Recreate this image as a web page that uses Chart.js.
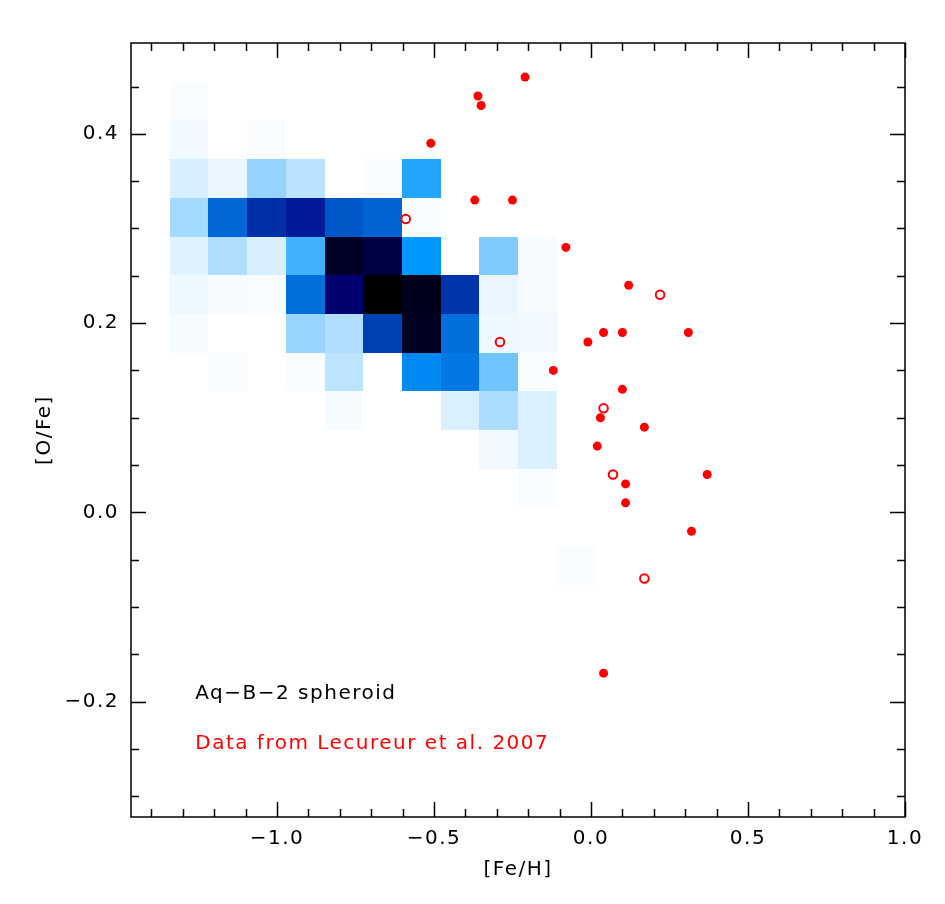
<!DOCTYPE html>
<html>
<head>
<meta charset="utf-8">
<title>[O/Fe] vs [Fe/H]</title>
<script src="https://cdn.jsdelivr.net/npm/chart.js@4.4.1/dist/chart.umd.min.js"></script>
<style>
  html, body { margin: 0; padding: 0; background: #fff; }
  #wrap { width: 945px; height: 904px; }
</style>
</head>
<body>
<div id="wrap"><canvas id="ofe-chart" width="945" height="904"></canvas></div>
<script>
// axis ranges ([Fe/H], [O/Fe])
var xRange = [-1.465, 1.0];
var yRange = [-0.322, 0.496];

// labelled ticks
var xTicks = [-1.0, -0.5, 0.0, 0.5, 1.0];
var yTicks = [-0.2, 0.0, 0.2, 0.4];
// all tick marks (minor + major)
var xTickMarks = [-1.4, -1.3, -1.2, -1.1, -1.0, -0.9, -0.8, -0.7, -0.6, -0.5, -0.4, -0.3, -0.2, -0.1,
                  0.0, 0.1, 0.2, 0.3, 0.4, 0.5, 0.6, 0.7, 0.8, 0.9, 1.0];
var yTickMarks = [-0.3, -0.25, -0.2, -0.15, -0.1, -0.05, 0.0, 0.05, 0.1, 0.15, 0.2, 0.25, 0.3, 0.35, 0.4, 0.45];

// Aq-B-2 spheroid density, 20x20 bins over the plot, rows from the top
var nBins = 20;
var densityRows = [
  [0, 0,   0,   0,   0,   0,   0,    0,    0,  0,  0,   0,   0, 0, 0, 0, 0, 0, 0, 0],
  [0, 1.5, 0,   0,   0,   0,   0,    0,    0,  0,  0,   0,   0, 0, 0, 0, 0, 0, 0, 0],
  [0, 4.3, 0,   1.5, 0,   0,   0,    0,    0,  0,  0,   0,   0, 0, 0, 0, 0, 0, 0, 0],
  [0, 11.5,6,   30,  20,  0,   1.5,  45,   0,  0,  0,   0,   0, 0, 0, 0, 0, 0, 0, 0],
  [0, 26,  65,  78,  85,  69,  66,   1.5,  0,  0,  0,   0,   0, 0, 0, 0, 0, 0, 0, 0],
  [0, 9,   23,  11.5,41,  95,  93,   52,   0,  33, 2.6, 0,   0, 0, 0, 0, 0, 0, 0, 0],
  [0, 5,   2.6, 1.5, 63,  90,  100,  96.5, 77, 6,  2.6, 0,   0, 0, 0, 0, 0, 0, 0, 0],
  [0, 3,   0,   0,   29,  23,  74,   96,   63, 5,  3.7, 0,   0, 0, 0, 0, 0, 0, 0, 0],
  [0, 0,   1.5, 0,   1.5, 19,  0,    56,   61, 35, 1.5, 0,   0, 0, 0, 0, 0, 0, 0, 0],
  [0, 0,   0,   0,   0,   2.6, 0,    0,    10, 24, 10,  0,   0, 0, 0, 0, 0, 0, 0, 0],
  [0, 0,   0,   0,   0,   0,   0,    0,    0,  4.3,10,  0,   0, 0, 0, 0, 0, 0, 0, 0],
  [0, 0,   0,   0,   0,   0,   0,    0,    0,  0,  1.5, 0,   0, 0, 0, 0, 0, 0, 0, 0],
  [0, 0,   0,   0,   0,   0,   0,    0,    0,  0,  0,   0,   0, 0, 0, 0, 0, 0, 0, 0],
  [0, 0,   0,   0,   0,   0,   0,    0,    0,  0,  0,   1.5, 0, 0, 0, 0, 0, 0, 0, 0],
  [0, 0,   0,   0,   0,   0,   0,    0,    0,  0,  0,   0,   0, 0, 0, 0, 0, 0, 0, 0],
  [0, 0,   0,   0,   0,   0,   0,    0,    0,  0,  0,   0,   0, 0, 0, 0, 0, 0, 0, 0],
  [0, 0,   0,   0,   0,   0,   0,    0,    0,  0,  0,   0,   0, 0, 0, 0, 0, 0, 0, 0],
  [0, 0,   0,   0,   0,   0,   0,    0,    0,  0,  0,   0,   0, 0, 0, 0, 0, 0, 0, 0],
  [0, 0,   0,   0,   0,   0,   0,    0,    0,  0,  0,   0,   0, 0, 0, 0, 0, 0, 0, 0],
  [0, 0,   0,   0,   0,   0,   0,    0,    0,  0,  0,   0,   0, 0, 0, 0, 0, 0, 0, 0]
];

// Lecureur et al. 2007 - filled symbols
var lecFeH = [-0.21, -0.36, -0.35, -0.51, -0.37, -0.25, -0.08, 0.12, -0.01, 0.04, 0.10, 0.31,
              -0.12, 0.10, 0.03, 0.17, 0.02, 0.37, 0.11, 0.11, 0.32, 0.04];
var lecOFe = [0.46, 0.44, 0.43, 0.39, 0.33, 0.33, 0.28, 0.24, 0.18, 0.19, 0.19, 0.19,
              0.15, 0.13, 0.10, 0.09, 0.07, 0.04, 0.03, 0.01, -0.02, -0.17];
// open symbols
var lecOpenFeH = [-0.59, 0.22, -0.29, 0.04, 0.07, 0.17];
var lecOpenOFe = [0.31, 0.23, 0.18, 0.11, 0.04, -0.07];

var FONT = "'DejaVu Sans', sans-serif";

window.onload = function(){

    function toPoints(xs, ys){
        var pts = [];
        for (var i = 0; i < xs.length; i++) pts.push({x: xs[i], y: ys[i]});
        return pts;
    }

    //白-蓝-黑 colour table
    function densityColor(t){
        var stops = [
            [0.00, 255, 255, 255],
            [0.30, 150, 212, 255],
            [0.45, 34, 164, 255],
            [0.52, 0, 152, 255],
            [0.65, 0, 104, 214],
            [0.78, 0, 48, 168],
            [0.85, 0, 26, 152],
            [0.90, 0, 0, 112],
            [0.95, 0, 0, 40],
            [1.00, 0, 0, 0]
        ];
        for (var i = 1; i < stops.length; i++) {
            if (t <= stops[i][0]) {
                var a = stops[i-1], b = stops[i];
                var f = (t - a[0]) / (b[0] - a[0]);
                var r = Math.round(a[1] + (b[1]-a[1])*f);
                var g = Math.round(a[2] + (b[2]-a[2])*f);
                var bl = Math.round(a[3] + (b[3]-a[3])*f);
                return 'rgb(' + r + ',' + g + ',' + bl + ')';
            }
        }
        return '#000';
    }

    function fmtTick(v){
        return Number(v).toFixed(1).replace('-', '\u2212');
    }

    function isMajor(v, list){
        return list.some(function(t){ return Math.abs(t - v) < 1e-6; });
    }

    // white page + wide lettering like the original plot font
    var whiteBg = {
        id: 'whiteBg',
        beforeDraw: function(chart){
            var c = chart.ctx;
            c.save();
            c.fillStyle = '#fff';
            c.fillRect(0, 0, chart.width, chart.height);
            c.restore();
            c.letterSpacing = '1.5px';
        }
    };

    // 2d histogram drawn under the points
    var heatmap = {
        id: 'heatmap',
        beforeDatasetsDraw: function(chart){
            var xs = chart.scales.x, ys = chart.scales.y, c = chart.ctx;
            var dx = (xRange[1] - xRange[0]) / nBins;
            var dy = (yRange[1] - yRange[0]) / nBins;
            c.save();
            for (var r = 0; r < densityRows.length; r++) {
                for (var k = 0; k < densityRows[r].length; k++) {
                    var v = densityRows[r][k];
                    if (!v) continue;
                    var x0 = Math.round(xs.getPixelForValue(xRange[0] + k*dx));
                    var x1 = Math.round(xs.getPixelForValue(xRange[0] + (k+1)*dx));
                    var y0 = Math.round(ys.getPixelForValue(yRange[1] - r*dy));
                    var y1 = Math.round(ys.getPixelForValue(yRange[1] - (r+1)*dy));
                    c.fillStyle = densityColor(v / 100);
                    c.fillRect(x0, y0, x1 - x0, y1 - y0);
                }
            }
            c.restore();
        }
    };

    // box, inward ticks on all sides, and the two text labels
    var frame = {
        id: 'frame',
        afterDraw: function(chart){
            var a = chart.chartArea, c = chart.ctx;
            var xs = chart.scales.x, ys = chart.scales.y;
            c.save();
            c.strokeStyle = '#000';
            c.lineWidth = 1.5;
            c.strokeRect(a.left, a.top, a.right - a.left, a.bottom - a.top);
            c.beginPath();
            xTickMarks.forEach(function(v){
                var px = Math.round(xs.getPixelForValue(v)) + 0.5;
                var len = isMajor(v, xTicks) ? 15 : 8;
                c.moveTo(px, a.bottom); c.lineTo(px, a.bottom - len);
                c.moveTo(px, a.top); c.lineTo(px, a.top + len);
            });
            yTickMarks.forEach(function(v){
                var py = Math.round(ys.getPixelForValue(v)) + 0.5;
                var len = isMajor(v, yTicks) ? 15 : 8;
                c.moveTo(a.left, py); c.lineTo(a.left + len, py);
                c.moveTo(a.right, py); c.lineTo(a.right - len, py);
            });
            c.stroke();

            var w = a.right - a.left, h = a.bottom - a.top;
            c.font = '20px ' + FONT;
            c.letterSpacing = '1.5px';
            c.textBaseline = 'middle';
            c.textAlign = 'left';
            c.fillStyle = '#000';
            c.fillText('Aq\u2212B\u22122 spheroid', a.left + 0.083*w, a.top + 0.841*h);
            c.fillStyle = '#ff0000';
            c.fillText('Data from Lecureur et al. 2007', a.left + 0.083*w, a.top + 0.906*h);
            c.restore();
        }
    };

    function showChart(){
        var ctx = document.getElementById('ofe-chart');
        var chart = new Chart(ctx, {
            type: 'scatter',
            data: {
                datasets: [{
                    label: 'Lecureur et al. 2007',
                    data: toPoints(lecFeH, lecOFe),
                    pointStyle: 'circle',
                    pointRadius: 4.5,
                    backgroundColor: '#ff0000',
                    borderColor: '#ff0000',
                    borderWidth: 0
                }, {
                    label: 'Lecureur et al. 2007 (open)',
                    data: toPoints(lecOpenFeH, lecOpenOFe),
                    pointStyle: 'circle',
                    pointRadius: 4.3,
                    backgroundColor: 'rgba(255,255,255,0)',
                    borderColor: '#ff0000',
                    borderWidth: 2
                }]
            },
            options: {
                responsive: false,
                animation: false,
                layout: { padding: { top: 43, right: 40, left: 0, bottom: 0 } },
                plugins: {
                    legend: { display: false },
                    tooltip: { enabled: false }
                },
                scales: {
                    x: {
                        type: 'linear',
                        min: xRange[0],
                        max: xRange[1],
                        grid: { display: false, drawTicks: false },
                        border: { display: false },
                        afterBuildTicks: function(s){ s.ticks = xTicks.map(function(v){ return {value: v}; }); },
                        afterFit: function(s){ s.height = 87; },
                        ticks: {
                            padding: 10, color: '#000', autoSkip: false, maxRotation: 0,
                            font: { family: FONT, size: 20 },
                            callback: fmtTick
                        },
                        title: {
                            display: true, text: '[Fe/H]', color: '#000',
                            font: { family: FONT, size: 20 },
                            padding: { top: 0, bottom: 22 }
                        }
                    },
                    y: {
                        type: 'linear',
                        min: yRange[0],
                        max: yRange[1],
                        grid: { display: false, drawTicks: false },
                        border: { display: false },
                        afterBuildTicks: function(s){ s.ticks = yTicks.map(function(v){ return {value: v}; }); },
                        afterFit: function(s){ s.width = 131; },
                        ticks: {
                            padding: 12, color: '#000', autoSkip: false,
                            font: { family: FONT, size: 20 },
                            callback: fmtTick
                        },
                        title: {
                            display: true, text: '[O/Fe]', color: '#000',
                            font: { family: FONT, size: 20 },
                            padding: { top: 33, bottom: 0 }
                        }
                    }
                }
            },
            plugins: [whiteBg, heatmap, frame]
        });
    }

    //画图
    showChart();
};
</script>
</body>
</html>
